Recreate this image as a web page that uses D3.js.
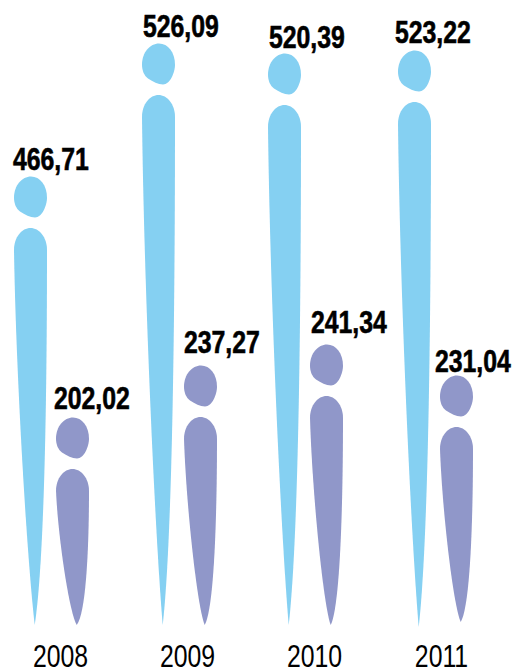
<!DOCTYPE html>
<html>
<head>
<meta charset="utf-8">
<script src="https://cdn.jsdelivr.net/npm/d3@7"></script>
<style>
    html, body { margin: 0; padding: 0; background: #fff; }
    svg { display: block; }
    text { font-family: "Liberation Sans", Arial, sans-serif; fill: #000; }
    .value { font-size: 31px; font-weight: bold; stroke: #000; stroke-width: 0.6px; }
    .year { font-size: 31px; }
</style>
</head>
<body>
<div id="chart"></div>
<script>
const years = ['2008', '2009', '2010', '2011']
const lightValues = [466.71, 526.09, 520.39, 523.22]
const darkValues = [202.02, 237.27, 241.34, 231.04]

const lightColor = '#85d0f2', darkColor = '#9097c9'
const width = 515, height = 669, baseline = 625
const headGap = 51.5, darkShift = 42, tipX = 20.7
const valueSquash = 0.8, yearSquash = 0.8

// the figures are not drawn to a true linear scale in the original, so the scale has knots
const y = d3.scaleLinear()
    .domain([202.02, 231.04, 237.27, 241.34, 466.71, 520.39, 523.22, 526.09])
    .range([469, 427, 417, 396, 228, 105, 102, 95])

const x = d3.scaleOrdinal().domain(years).range([14, 142, 268, 398])
const yearX = d3.scalePoint().domain(years).range([60.5, 441.5])

// hand placement of the labels and tips, the original is not regular here
const lightLayout = { labelDx: [-1, 1, 1, -3], labelGap: [7, 7, 6, 8], tipDy: [0, 0, 0, 2] }
const darkLayout = { labelDx: [-2, 0, 1, -5], labelGap: [9, 13, 12, 4], tipDy: [0, 0, 0, -3] }

const svg = d3.select('#chart').append('svg')
    .attr('width', width)
    .attr('height', height)

const format = d => d.toFixed(2).replace('.', ',')

const headPath = 'M17,0 C26,0 33,9 33,21 C33,29 28,41 21,41 C16,41 11,38 6,35 C2,32 0,27 0,21 C0,9 8,0 17,0 Z'

function bodyPath(h, tipShare) {
    const upper = 22 + (h - 22) * 0.34
    const lower = h - (h - 22) * tipShare
    return `M0,22 C0,9 8,0 16.5,0 C25,0 33,9 33,22
        C33,${upper} 31,${lower} ${tipX},${h}
        C13,${lower} 2,${upper} 0,22 Z`
}

function drawSeries(values, color, shift, tipShare, layout) {
    const group = svg.append('g')
        .selectAll('g')
        .data(values)
        .join('g')
        .attr('transform', (d, i) => `translate(${x(years[i]) + shift},${y(d)})`)

    group.append('path')
        .attr('d', (d, i) => bodyPath(baseline + layout.tipDy[i] - y(d), tipShare))
        .attr('fill', color)

    group.append('path')
        .attr('d', headPath)
        .attr('transform', `translate(0,${-headGap})`)
        .attr('fill', color)

    group.append('text')
        .attr('class', 'value')
        .attr('transform', (d, i) => `translate(${layout.labelDx[i]},${-headGap - layout.labelGap[i]}) scale(${valueSquash},1)`)
        .text(format)
}

drawSeries(lightValues, lightColor, 0, 0.18, lightLayout)
drawSeries(darkValues, darkColor, darkShift, 0.1, darkLayout)

svg.append('g')
    .selectAll('text')
    .data(years)
    .join('text')
    .attr('class', 'year')
    .attr('transform', d => `translate(${yearX(d)},667) scale(${yearSquash},1)`)
    .attr('text-anchor', 'middle')
    .text(d => d)
</script>
</body>
</html>
